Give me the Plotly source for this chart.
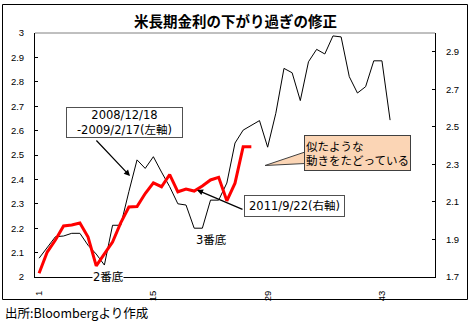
import plotly.graph_objects as go

# ---- data ----
black_vals = [2.077, 2.12, 2.165, 2.168, 2.179, 2.179, 2.13, 2.094, 2.049, 2.212,
              2.212, 2.35, 2.48, 2.445, 2.493, 2.43, 2.37, 2.30, 2.295, 2.20,
              2.20, 2.315, 2.315, 2.385, 2.549, 2.602, 2.62, 2.641, 2.532, 2.671,
              2.855, 2.837, 2.723, 2.882, 2.933, 2.914, 2.988, 2.984, 2.821, 2.754,
              2.78, 2.886, 2.886, 2.643]
red_vals = [1.72, 1.833, 1.897, 1.972, 1.977, 1.988, 1.913, 1.759, 1.823, 1.886,
            1.988, 2.073, 2.075, 2.145, 2.202, 2.181, 2.246, 2.154, 2.169, 2.158,
            2.185, 2.217, 2.231, 2.106, 2.2, 2.394, 2.394]
black_x = list(range(1, len(black_vals) + 1))
red_x = list(range(1, len(red_vals) + 1))
x_tickvals = [1, 15, 29, 43]
n_categories = 49

title = "米長期金利の下がり過ぎの修正"
label_black = "2008/12/18<br>-2009/2/17(左軸)"
label_red = "2011/9/22(右軸)"
callout = "似たような<br>動きをたどっている"
source = "出所:Bloombergより作成"

NUM_FONT = "Liberation Sans, Arial, sans-serif"
TXT_FONT = "DejaVu Sans, Noto Sans CJK JP, sans-serif"
JP_FONT = "Noto Sans CJK JP, sans-serif"

fig = go.Figure()
fig.add_trace(go.Scatter(x=black_x, y=black_vals, mode="lines",
                         line=dict(color="black", width=1), yaxis="y"))
fig.add_trace(go.Scatter(x=red_x, y=red_vals, mode="lines",
                         line=dict(color="#FF0000", width=3), yaxis="y2"))

W, H = 471, 322
L, R, T, B = 35, 36, 33, 45
pw, ph = W - L - R, H - T - B


def px(xp):
    return (xp - L) / pw


def py(yp):
    return (H - B - yp) / ph


fig.update_layout(
    width=W, height=H,
    margin=dict(l=L, r=R, t=T, b=B),
    paper_bgcolor="white", plot_bgcolor="white",
    showlegend=False,
    xaxis=dict(range=[0.5, n_categories + 0.5], tickvals=x_tickvals,
               ticktext=[str(v) for v in x_tickvals], tickangle=-90,
               showline=True, linecolor="black", linewidth=1,
               showgrid=False, zeroline=False, ticks="",
               ticklabelstandoff=9,
               tickfont=dict(family=NUM_FONT, size=9.5, color="black")),
    yaxis=dict(range=[2, 3], dtick=0.1, tick0=2, showline=True,
               linecolor="black", linewidth=1, showgrid=False, zeroline=False,
               ticks="inside", ticklen=3, tickcolor="black",
               ticklabelstandoff=8,
               tickfont=dict(family=NUM_FONT, size=9.5, color="black")),
    yaxis2=dict(range=[1.7, 3.0], dtick=0.2, tick0=1.7, overlaying="y",
                side="right", showline=True, linecolor="black", linewidth=1,
                showgrid=False, zeroline=False, ticks="inside", ticklen=3,
                tickcolor="black", ticklabelstandoff=8,
                tickfont=dict(family=NUM_FONT, size=9.5, color="black")),
)

shapes = []
# outer chart frame
shapes.append(dict(type="rect", xref="paper", yref="paper",
                   x0=px(2.5), x1=px(467.5), y0=py(299.5), y1=py(4.5),
                   line=dict(color="black", width=1), layer="above"))
# top border of plot area
shapes.append(dict(type="line", xref="paper", yref="paper", x0=0, x1=1,
                   y0=1, y1=1, line=dict(color="#808080", width=1),
                   layer="above"))
# callout tail
shapes.append(dict(type="path", xref="paper", yref="paper",
                   path=f"M {px(305)},{py(152)} L {px(265)},{py(165.5)} L {px(305)},{py(163.5)} Z",
                   fillcolor="#FBD5B5", line=dict(color="#404040", width=1),
                   layer="above"))
fig.update_layout(shapes=shapes)

ann = []


def box(text, xc, yc, **kw):
    d = dict(text=text, xref="paper", yref="paper", x=px(xc), y=py(yc),
             xanchor="center", yanchor="middle", showarrow=False)
    d.update(kw)
    ann.append(d)


box(f"<b>{title}</b>", 236, 20.5,
    font=dict(family=JP_FONT, size=14.5, color="black"))
box(label_black, 124.3, 122.3, bgcolor="white", bordercolor="#505050",
    borderwidth=1, borderpad=1, width=113, height=27, align="center",
    font=dict(family=TXT_FONT, size=11.5, color="black"))
box(label_red, 294.2, 206.2, bgcolor="white", bordercolor="#505050",
    borderwidth=1, borderpad=1, width=97, height=18, align="center",
    font=dict(family=TXT_FONT, size=11.5, color="black"))
box(callout, 357.2, 152.5, bgcolor="#FBD5B5", bordercolor="#404040",
    borderwidth=1, borderpad=1, width=103, height=32, align="left",
    font=dict(family=JP_FONT, size=11.5, color="black"))
box("2番底", 108.3, 277.3, bgcolor="white", borderpad=0,
    font=dict(family=TXT_FONT, size=11.5, color="black"))
box("3番底", 211.3, 240,
    font=dict(family=TXT_FONT, size=11.5, color="black"))
ann.append(dict(text=source, xref="paper", yref="paper",
                x=px(3), y=py(312.5), xanchor="left", yanchor="middle",
                showarrow=False,
                font=dict(family=JP_FONT, size=12.5, color="black")))
# arrows
ann.append(dict(text="", xref="paper", yref="paper",
                x=px(130), y=py(176), ax=95 - 130, ay=139 - 176,
                showarrow=True, arrowhead=2, arrowsize=1, arrowwidth=1.2,
                arrowcolor="black"))
ann.append(dict(text="", xref="paper", yref="paper",
                x=px(197), y=py(190), ax=244 - 197, ay=210 - 190,
                showarrow=True, arrowhead=2, arrowsize=1, arrowwidth=1.2,
                arrowcolor="black"))
fig.update_layout(annotations=ann)

fig.write_html("out.html")
